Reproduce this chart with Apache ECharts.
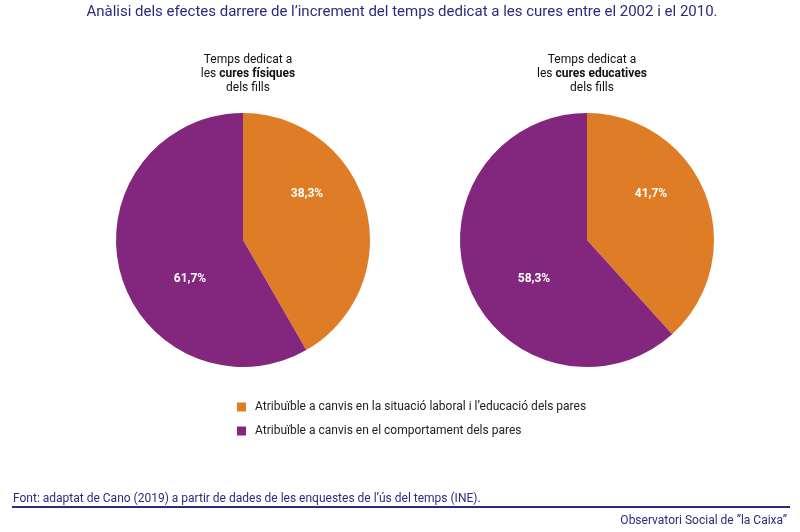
<!DOCTYPE html>
<html>
<head>
<meta charset="utf-8">
<script src="https://cdn.jsdelivr.net/npm/echarts@6/dist/echarts.min.js"></script>
<style>
  html, body { margin: 0; padding: 0; background: #fff; }
  #chart { width: 800px; height: 532px; }
</style>
</head>
<body>
<div id="chart"></div>
<script>
// categories (legend)
const categories = [
  'Atribuïble a canvis en la situació laboral i l\u2019educació dels pares',
  'Atribuïble a canvis en el comportament dels pares'
]
// printed percentages
const labelsFisiques = ['38,3%', '61,7%']
const labelsEducatives = ['41,7%', '58,3%']
// slice sizes as drawn in the original (its wedges look swapped vs. the printed numbers)
const curesFisiques = [41.7, 58.3]
const curesEducatives = [38.3, 61.7]

const colors = ['#DF7D27', '#82267E']
const indigo = '#2B2A7F'
const font = 'Roboto, "Liberation Sans", sans-serif'

const centers = [[243, 240], [587, 240]]
// where the percentage labels sit, relative to each pie centre
const labelOffsets = [[64, -46], [-53, 39]]

function pieSeries(name, values, labels, idx) {
  return {
    name: name,
    type: 'pie',
    center: centers[idx],
    radius: 127,
    startAngle: 90,
    clockwise: true,
    silent: true,
    label: {
      show: true,
      position: 'inside',
      color: '#fff',
      fontWeight: 'bold',
      fontSize: 12,
      fontFamily: font,
      formatter: (p) => labels[p.dataIndex]
    },
    labelLine: { show: false },
    labelLayout: function (p) {
      const off = labelOffsets[p.dataIndex]
      return { x: centers[idx][0] + off[0], y: centers[idx][1] + off[1], align: 'center', verticalAlign: 'middle' }
    },
    itemStyle: { borderWidth: 0 },
    data: values.map((v, i) => ({ name: categories[i], value: v }))
  }
}

const subtitle = (bold) => ({
  text: 'Temps dedicat a\n{n|les }{b|' + bold + '}\ndels fills',
  textAlign: 'center',
  top: 48,
  textStyle: {
    fontFamily: font,
    fontSize: 12,
    fontWeight: 'normal',
    color: '#111',
    lineHeight: 14,
    rich: {
      n: { fontFamily: font, fontSize: 12, color: '#111', lineHeight: 14 },
      b: { fontFamily: font, fontSize: 12, fontWeight: 'bold', color: '#111', lineHeight: 14 }
    }
  }
})

const myChart = echarts.init(document.getElementById('chart'))
myChart.setOption({
  color: colors,
  animation: false,
  title: [
    {
      text: 'Anàlisi dels efectes darrere de l\u2019increment del temps dedicat a les cures entre el 2002 i el 2010.',
      left: 397,
      textAlign: 'center',
      top: 0,
      textStyle: { fontFamily: font, fontSize: 15, fontWeight: 'normal', color: indigo }
    },
    Object.assign(subtitle('cures físiques'), { left: 243 }),
    Object.assign(subtitle('cures educatives'), { left: 587 }),
    {
      text: 'Font: adaptat de Cano (2019) a partir de dades de les enquestes de l\u2019ús del temps (INE).',
      left: 8,
      top: 488,
      textStyle: { fontFamily: font, fontSize: 12, fontWeight: 'normal', color: indigo }
    },
    {
      text: 'Observatori Social de \u201Dla Caixa\u201D',
      right: 8,
      top: 510,
      textStyle: { fontFamily: font, fontSize: 12, fontWeight: 'normal', color: indigo }
    }
  ],
  legend: {
    orient: 'vertical',
    left: 232,
    top: 396,
    icon: 'rect',
    itemWidth: 9,
    itemHeight: 9,
    itemGap: 12,
    selectedMode: false,
    textStyle: { fontFamily: font, fontSize: 12, color: '#222', padding: [0, 0, 0, 4] },
    data: categories
  },
  graphic: [
    {
      type: 'line',
      shape: { x1: 12, y1: 507, x2: 790, y2: 507 },
      style: { stroke: indigo, lineWidth: 2 },
      silent: true
    }
  ],
  series: [
    pieSeries('Temps dedicat a les cures físiques dels fills', curesFisiques, labelsFisiques, 0),
    pieSeries('Temps dedicat a les cures educatives dels fills', curesEducatives, labelsEducatives, 1)
  ]
})
</script>
</body>
</html>
